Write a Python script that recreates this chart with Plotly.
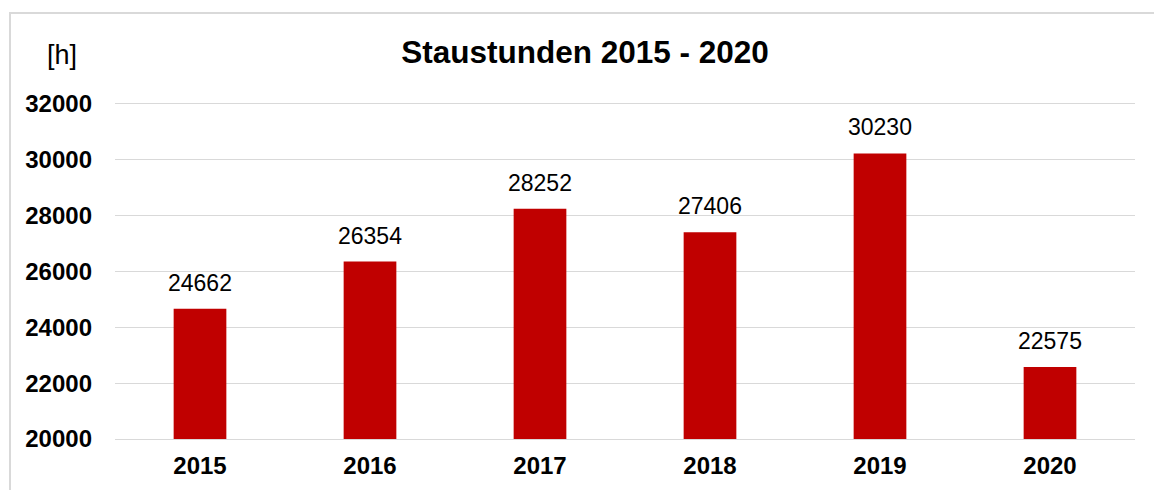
import plotly.graph_objects as go

years = ["2015", "2016", "2017", "2018", "2019", "2020"]
hours = [24662, 26354, 28252, 27406, 30230, 22575]
y_ticks = [20000, 22000, 24000, 26000, 28000, 30000, 32000]

W, H = 1154, 490
L, R, T, B = 115, 19, 104, 51
pw, ph = W - L - R, H - T - B

def px_x(x):
    return (x - L) / pw

def px_y(y):
    return (H - B - y) / ph

FONT = "Liberation Sans, Arial"

fig = go.Figure(go.Bar(
    x=years, y=hours,
    marker=dict(color="#C00000", line=dict(width=0)),
    cliponaxis=False,
))

# category axis: position i corresponds to years[i]
value_labels = [dict(x=i, y=v, xref="x", yref="y", text=str(v),
                     showarrow=False, xanchor="center", yanchor="bottom",
                     yshift=11, font=dict(family=FONT, size=23, color="#000000"))
                for i, v in enumerate(hours)]

fig.update_layout(
    width=W, height=H,
    margin=dict(l=L, r=R, t=T, b=B, autoexpand=False),
    paper_bgcolor="white", plot_bgcolor="white",
    bargap=0.69,
    showlegend=False,
    font=dict(family=FONT, color="#000000"),
    title=dict(text="<b>Staustunden 2015 - 2020</b>", x=px_x(585), xref="paper",
               xanchor="center", y=1 - 52 / H, yanchor="middle",
               font=dict(size=31.5, color="#000000")),
    xaxis=dict(type="category", categoryorder="array", categoryarray=years,
               range=[-0.5, len(years) - 0.5],
               showgrid=False, showline=True, mirror=True, linecolor="#d9d9d9",
               linewidth=1.3, ticks="", automargin=False,
               tickfont=dict(size=24, color="#000000", weight="bold")),
    yaxis=dict(range=[20000, 32000], tickvals=y_ticks,
               ticktext=[str(v) for v in y_ticks], automargin=False,
               showgrid=True, gridcolor="#d9d9d9", gridwidth=1.3,
               zeroline=False, showline=False, ticks="", ticklen=0,
               tickfont=dict(size=24, color="#000000", weight="bold")),
    annotations=value_labels + [dict(text="[h]", xref="paper", yref="paper",
                      x=px_x(62), y=px_y(55), xanchor="center", yanchor="middle",
                      showarrow=False, font=dict(size=27, color="#000000"))],
    shapes=[dict(type="rect", xref="paper", yref="paper",
                 x0=px_x(10), y0=px_y(560), x1=px_x(1250), y1=px_y(13),
                 line=dict(color="#d9d9d9", width=2), layer="below")],
)
fig.update_yaxes(ticklabelstandoff=22)
fig.update_xaxes(ticklabelstandoff=5)

fig.write_html("out.html", config={"displayModeBar": False},
               post_script="document.body.style.margin='0';")
